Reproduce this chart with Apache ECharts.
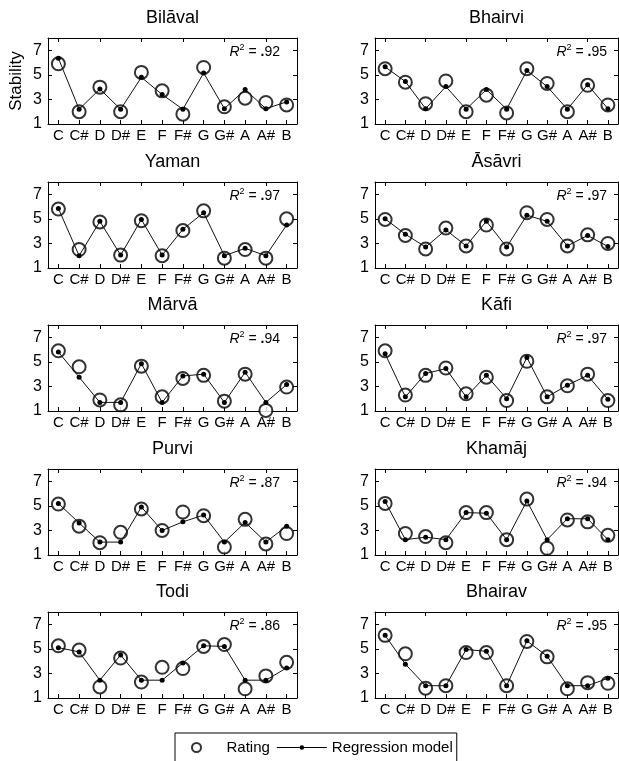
<!DOCTYPE html>
<html>
<head>
<meta charset="utf-8">
<script src="https://cdn.jsdelivr.net/npm/echarts@6/dist/echarts.min.js"></script>
<style>
html,body{margin:0;padding:0;background:#fff;}
#c{width:619px;height:761px;}
</style>
</head>
<body>
<div id="c"></div>
<script>
var categories = ['C','C#','D','D#','E','F','F#','G','G#','A','A#','B'];
var ragaNames = ['Bilāval','Bhairvi','Yaman','Āsāvri','Mārvā','Kāfi','Purvi','Khamāj','Todi','Bhairav'];
var r2Values = ['.92','.95','.97','.97','.94','.97','.87','.94','.86','.95'];
var yTicks = [1,3,5,7];

var bilavalRating = [5.9, 2.0, 4.0, 2.0, 5.2, 3.7, 1.8, 5.6, 2.4, 3.1, 2.75, 2.55];
var bilavalModel  = [6.35, 2.2, 3.85, 2.2, 4.8, 3.4, 2.2, 5.15, 2.25, 3.8, 2.25, 2.8];
var bhairviRating = [5.5, 4.4, 2.65, 4.5, 2.0, 3.35, 1.9, 5.5, 4.3, 2.0, 4.15, 2.55];
var bhairviModel  = [5.65, 4.45, 2.25, 4.05, 2.2, 3.8, 2.2, 5.35, 4.05, 2.2, 4.2, 2.25];
var yamanRating   = [5.8, 2.5, 4.75, 2.05, 4.85, 2.0, 4.05, 5.65, 1.8, 2.5, 1.8, 5.0];
var yamanModel    = [5.85, 2.0, 4.8, 2.05, 4.95, 2.05, 4.15, 5.5, 2.0, 2.6, 2.0, 4.5];
var asavriRating  = [4.95, 3.65, 2.55, 4.25, 2.8, 4.5, 2.55, 5.5, 4.95, 2.8, 3.7, 3.0];
var asavriModel   = [5.0, 3.75, 2.7, 4.1, 2.8, 4.8, 2.7, 5.3, 4.8, 2.8, 3.65, 2.75];
var marvaRating   = [5.9, 4.6, 1.9, 1.5, 4.65, 2.15, 3.65, 3.9, 1.8, 4.0, 1.05, 2.95];
var marvaModel    = [5.8, 3.75, 1.7, 1.7, 4.85, 1.7, 3.85, 4.0, 1.7, 4.15, 1.7, 3.15];
var kafiRating    = [5.9, 2.3, 3.9, 4.5, 2.4, 3.75, 1.85, 5.05, 2.15, 3.05, 4.0, 1.85];
var kafiModel     = [5.65, 2.15, 4.05, 4.45, 2.15, 3.9, 2.0, 5.35, 2.15, 3.1, 3.9, 1.95];
var purviRating   = [5.15, 3.35, 2.0, 2.85, 4.75, 3.0, 4.5, 4.2, 1.65, 3.9, 1.9, 2.75];
var purviModel    = [5.2, 3.6, 2.05, 2.05, 4.9, 3.0, 3.7, 4.25, 2.05, 3.65, 2.05, 3.35];
var khamajRating  = [5.2, 2.75, 2.5, 2.0, 4.45, 4.45, 2.25, 5.55, 1.55, 3.85, 3.7, 2.6];
var khamajModel   = [5.35, 2.25, 2.45, 2.25, 4.45, 4.4, 2.25, 5.4, 2.25, 3.95, 3.95, 2.25];
var todiRating    = [5.25, 4.9, 1.9, 4.25, 2.3, 3.5, 3.4, 5.2, 5.35, 1.75, 2.8, 3.9];
var todiModel     = [5.1, 4.75, 2.45, 4.5, 2.45, 2.45, 3.85, 5.25, 5.2, 2.45, 2.45, 3.45];
var bhairavRating = [6.1, 4.6, 1.8, 2.0, 4.7, 4.7, 2.0, 5.6, 4.35, 1.75, 2.25, 2.2];
var bhairavModel  = [6.1, 3.75, 2.0, 2.0, 4.95, 4.8, 2.0, 5.65, 4.4, 2.0, 2.0, 2.6];

var ratingSets = [bilavalRating, bhairviRating, yamanRating, asavriRating, marvaRating, kafiRating, purviRating, khamajRating, todiRating, bhairavRating];
var modelSets  = [bilavalModel, bhairviModel, yamanModel, asavriModel, marvaModel, kafiModel, purviModel, khamajModel, todiModel, bhairavModel];

var FONT = '"Liberation Sans", Arial, Helvetica, sans-serif';
var colLeft = [48, 375];
var colWidth = [249, 243];
var rowTop = [38, 182, 325, 469, 612];
var H = 86;

var grids = [], xAxes = [], yAxes = [], series = [], graphics = [];
for (var i = 0; i < 10; i++) {
  var col = i % 2, row = Math.floor(i / 2);
  var L = colLeft[col], W = colWidth[col], T = rowTop[row];
  grids.push({left: L, top: T, width: W, height: H, containLabel: false});
  var baseX = {
    gridIndex: i, type: 'category', data: categories, boundaryGap: true,
    axisLine: {show: true, onZero: false, lineStyle: {color: '#000', width: 1}},
    axisTick: {show: true, inside: true, alignWithLabel: true, length: 4, lineStyle: {color: '#000', width: 1}},
    splitLine: {show: false}
  };
  xAxes.push(Object.assign({}, baseX, {position: 'bottom',
    axisLabel: {interval: 0, margin: 4, fontSize: 15, color: '#000', fontFamily: FONT}}));
  xAxes.push(Object.assign({}, baseX, {position: 'top', axisLabel: {show: false}}));
  var baseY = {
    gridIndex: i, type: 'value', min: 1, max: 8, interval: 2,
    axisLine: {show: true, onZero: false, lineStyle: {color: '#000', width: 1}},
    axisTick: {show: true, inside: true, length: 4, lineStyle: {color: '#000', width: 1}},
    splitLine: {show: false}
  };
  var yl = Object.assign({}, baseY, {position: 'left',
    axisLabel: {margin: 6, fontSize: 16, color: '#000', fontFamily: FONT,
      formatter: function (v) { return yTicks.indexOf(v) >= 0 ? String(v) : ''; }}});
  if (i === 0) {
    yl.name = 'Stability';
    yl.nameLocation = 'middle';
    yl.nameGap = 23;
    yl.nameRotate = 90;
    yl.nameTextStyle = {fontSize: 17, color: '#000', fontFamily: FONT};
  }
  yAxes.push(yl);
  yAxes.push(Object.assign({}, baseY, {position: 'right', axisLabel: {show: false}}));

  series.push({
    name: 'Rating', type: 'scatter', xAxisIndex: 2 * i, yAxisIndex: 2 * i,
    data: ratingSets[i], symbol: 'emptyCircle', symbolSize: 13, z: 2,
    itemStyle: {color: '#000', borderWidth: 1.4}, silent: true
  });
  series.push({
    name: 'Regression model', type: 'line', xAxisIndex: 2 * i, yAxisIndex: 2 * i,
    data: modelSets[i], symbol: 'circle', symbolSize: 5, showSymbol: true, z: 3,
    itemStyle: {color: '#000'}, lineStyle: {color: '#111', width: 1}, silent: true
  });

  graphics.push({
    type: 'text', x: L + W / 2, y: T - 20, silent: true,
    style: {text: ragaNames[i], align: 'center', verticalAlign: 'middle',
      font: '18px ' + FONT, fill: '#000'}
  });
  graphics.push({
    type: 'text', x: L + W - (col === 0 ? 17 : 11), y: T + 14, silent: true,
    style: {
      text: '{i|R}{s|2}{n| = }{b|.}{n|' + r2Values[i].slice(1) + '}',
      align: 'right', verticalAlign: 'middle', fill: '#000',
      rich: {
        i: {fontStyle: 'italic', fontSize: 14, fontFamily: FONT, lineHeight: 18, fill: '#000'},
        s: {fontSize: 9, fontFamily: FONT, lineHeight: 10, verticalAlign: 'top', fill: '#000'},
        n: {fontSize: 14, fontFamily: FONT, lineHeight: 18, fill: '#000'},
        b: {fontSize: 14, fontWeight: 'bold', fontFamily: FONT, lineHeight: 18, fill: '#000'}
      }
    }
  });
}

var lineDotIcon = 'path://M0,4 L22.75,4 L22.75,5 L0,5 Z M27.25,4 L50,4 L50,5 L27.25,5 Z ' +
  'M27.25,4.5 A2.25,2.25 0 1 1 22.75,4.5 A2.25,2.25 0 1 1 27.25,4.5 Z';

var chart = echarts.init(document.getElementById('c'), null, {renderer: 'canvas'});
chart.setOption({
  animation: false,
  backgroundColor: '#fff',
  grid: grids,
  xAxis: xAxes,
  yAxis: yAxes,
  series: series,
  graphic: graphics,
  legend: {
    show: true, left: 175, top: 733, orient: 'horizontal',
    data: [
      {name: 'Rating', itemStyle: {borderWidth: 1.2}},
      {name: 'Regression model', icon: lineDotIcon, itemStyle: {color: '#000', borderWidth: 0}}
    ],
    itemWidth: 50, itemHeight: 9, itemGap: 7,
    padding: [7, 4, 7, 16],
    borderColor: '#000', borderWidth: 1, borderRadius: 0,
    textStyle: {fontSize: 15, color: '#000', fontFamily: FONT},
    selectedMode: false
  }
});
</script>
</body>
</html>
